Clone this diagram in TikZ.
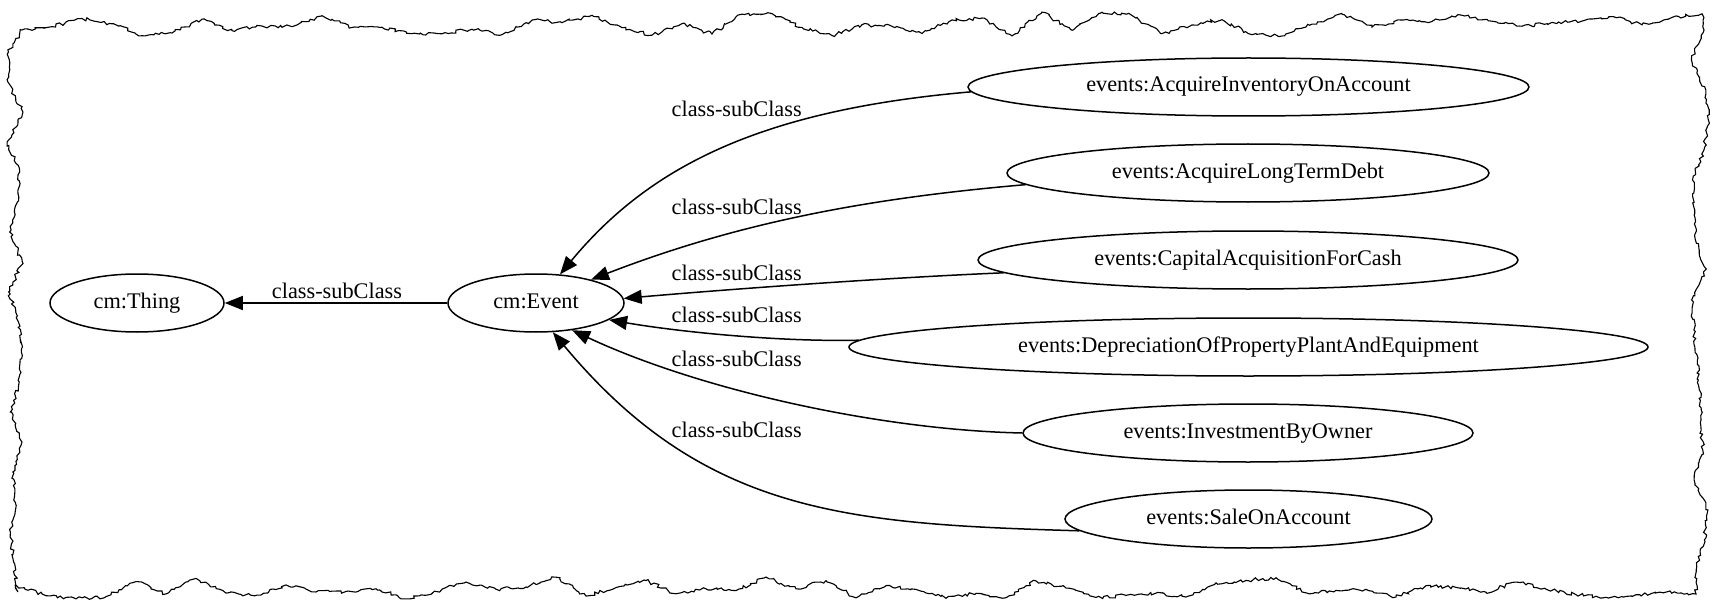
\documentclass[tikz,border=0pt]{standalone}
\usepackage{fontspec}
\setmainfont{Liberation Serif}
\usetikzlibrary{shapes.geometric,arrows.meta,decorations.pathmorphing}
\newdimen\pxu \pxu=0.5pt
\begin{document}
\begin{tikzpicture}[x=0.5pt,y=-0.5pt,
  cls/.style={ellipse, draw, line width=0.75pt, inner sep=0pt, minimum height=58\pxu,
    font=\fontsize{11.15pt}{13pt}\selectfont, text height=7.5pt, text depth=2.5pt},
  lbl/.style={inner sep=0pt, font=\fontsize{11.15pt}{13pt}\selectfont, text height=7.5pt, text depth=2.5pt},
  sub/.style={line width=0.75pt, -{Triangle[length=9pt,width=7pt]}},
  frame/.style={line width=0.55pt, decorate, decoration={random steps, segment length=1.5pt, amplitude=0.9pt}}]
\useasboundingbox (0,0) rectangle (1719,610);

% torn-edge frame
\pgfmathsetseed{7}
\draw[frame] (22,30)
  \foreach \i in {1,...,56}{ -- ({22+\i*30},{24+12*rand}) }
  -- (1704,30)
  \foreach \i in {1,...,18}{ -- ({1700+9*rand},{30+\i*30}) }
  -- (1696,594)
  \foreach \i in {1,...,56}{ -- ({1696-\i*30},{588+11*rand}) }
  -- (18,592)
  \foreach \i in {1,...,18}{ -- ({15+8*rand},{592-\i*30}) }
  -- cycle;

% nodes
\node[cls, minimum width=174\pxu] (thing) at (137,303) {cm:Thing};
\node[cls, minimum width=176\pxu] (event) at (536,303) {cm:Event};
\node[cls, minimum width=561\pxu] (acq)  at (1248.5,87)  {events:AcquireInventoryOnAccount};
\node[cls, minimum width=482\pxu] (ltd)  at (1248,173)   {events:AcquireLongTermDebt};
\node[cls, minimum width=540\pxu] (cap)  at (1248,260)   {events:CapitalAcquisitionForCash};
\node[cls, minimum width=799\pxu] (dep)  at (1248.5,347) {events:DepreciationOfPropertyPlantAndEquipment};
\node[cls, minimum width=450\pxu] (inv)  at (1248,433)   {events:InvestmentByOwner};
\node[cls, minimum width=367\pxu] (sale) at (1248.5,519) {events:SaleOnAccount};

% edge labels
\node[lbl] (l0) at (337,293.3)   {class-subClass};
\node[lbl] (l1) at (736.7,111.3) {class-subClass};
\node[lbl] (l2) at (736.7,209.2) {class-subClass};
\node[lbl] (l3) at (736.7,275.8) {class-subClass};
\node[lbl] (l4) at (736.7,317.5) {class-subClass};
\node[lbl] (l5) at (736.7,361.8) {class-subClass};
\node[lbl] (l6) at (736.7,432.5) {class-subClass};

% edges
\draw[sub] (event.west) -- (thing.east);
\draw[sub] (acq.181) .. controls (760,110) and (649,167) .. (event.50);
\draw[sub] (ltd.183.5) .. controls (870,198) and (740,222) .. (event.23);
\draw[sub] (cap.183) .. controls (880,278) and (720,290) .. (event.3);
\draw[sub] (dep.179.5) .. controls (780,342) and (680,332) .. (event.347);
\draw[sub] (inv.west) .. controls (880,430) and (700,390) .. (event.323);
\draw[sub] (sale.184) .. controls (850,524) and (705,515) .. (event.300);
\end{tikzpicture}
\end{document}
